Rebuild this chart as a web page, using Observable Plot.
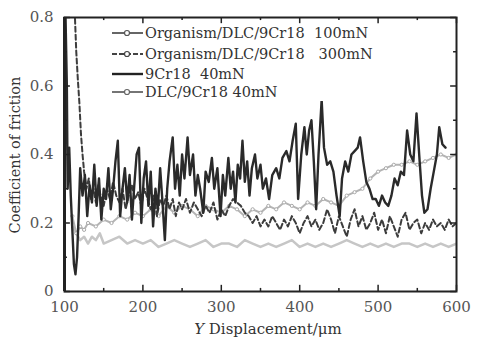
<!DOCTYPE html>
<html><head><meta charset="utf-8">
<script src="https://cdn.jsdelivr.net/npm/d3@7"></script>
<script src="https://cdn.jsdelivr.net/npm/@observablehq/plot@0.6"></script>
<style>body{margin:0;background:#fff}svg{display:block}</style>
</head><body><div id="chart"></div>
<script>
// ---- data ----
const xTicks = [100, 200, 300, 400, 500, 600];
const xMinor = [150, 250, 350, 450, 550];
const yTicks = [0, 0.2, 0.4, 0.6, 0.8];
const yMinor = [0.1, 0.3, 0.5, 0.7];

const legendLabels = [
  "Organism/DLC/9Cr18  100mN",
  "Organism/DLC/9Cr18   300mN",
  "9Cr18  40mN",
  "DLC/9Cr18 40mN"
];

// 9Cr18 40mN (solid black)
const xCr = [100,101,103,104,106,108,110,112,114,116,118,120,123,126,129,132,135,138,141,144,147,150,153,156,159,162,165,168,171,174,177,180,183,186,189,192,195,198,201,204,207,210,213,216,219,222,225,228,231,234,238,241,244,247,250,253,257,260,264,267,270,273,277,280,284,288,291,295,299,302,305,309,312,315,318,321,324,327,330,333,336,339,343,346,350,353,357,361,365,370,374,378,383,387,391,395,398,402,406,409,412,415,418,421,424,428,431,435,439,443,447,451,454,458,462,466,470,474,477,481,485,489,493,497,501,505,509,513,517,521,525,529,533,537,541,545,549,553,556,559,563,567,571,575,578,582,586];
const yCr = [0.05,0.84,0.60,0.30,0.42,0.28,0.18,0.08,0.05,0.10,0.22,0.36,0.28,0.34,0.22,0.31,0.26,0.37,0.25,0.33,0.21,0.30,0.27,0.36,0.24,0.30,0.38,0.44,0.22,0.30,0.36,0.26,0.34,0.21,0.31,0.40,0.42,0.20,0.33,0.38,0.25,0.35,0.19,0.30,0.24,0.36,0.26,0.15,0.30,0.38,0.45,0.30,0.37,0.28,0.40,0.33,0.45,0.34,0.40,0.28,0.34,0.30,0.23,0.35,0.32,0.39,0.30,0.36,0.22,0.34,0.28,0.39,0.30,0.35,0.26,0.37,0.33,0.44,0.32,0.38,0.28,0.36,0.40,0.33,0.37,0.30,0.33,0.27,0.34,0.36,0.33,0.39,0.41,0.38,0.44,0.49,0.27,0.40,0.48,0.40,0.47,0.50,0.38,0.24,0.40,0.56,0.42,0.37,0.38,0.35,0.28,0.22,0.33,0.38,0.35,0.40,0.41,0.42,0.45,0.38,0.32,0.30,0.27,0.27,0.25,0.28,0.26,0.25,0.28,0.33,0.31,0.35,0.34,0.47,0.40,0.38,0.52,0.38,0.28,0.23,0.24,0.30,0.35,0.40,0.48,0.43,0.42];

// Organism/DLC/9Cr18 300mN (dashed)
const x300 = [113,115,117,119,121,123,125,128,131,134,137,140,143,146,150,154,158,162,166,170,174,178,182,186,190,194,198,202,206,210,214,218,222,226,230,234,238,242,246,250,255,260,265,270,275,280,285,290,295,300,305,310,315,320,325,330,335,340,345,350,355,360,365,370,375,380,385,390,395,400,405,410,415,420,425,430,435,440,445,450,455,460,465,470,475,480,485,490,495,500,505,510,515,520,525,530,535,540,545,550,555,560,565,570,575,580,585,590,595,600];
const y300 = [0.82,0.70,0.62,0.55,0.46,0.40,0.35,0.30,0.33,0.27,0.30,0.26,0.31,0.28,0.25,0.30,0.27,0.32,0.28,0.26,0.30,0.24,0.28,0.31,0.27,0.29,0.25,0.30,0.27,0.24,0.28,0.22,0.27,0.25,0.28,0.24,0.27,0.22,0.26,0.24,0.27,0.23,0.26,0.24,0.22,0.25,0.23,0.26,0.21,0.24,0.22,0.25,0.27,0.26,0.25,0.23,0.22,0.20,0.22,0.19,0.21,0.19,0.22,0.20,0.18,0.21,0.19,0.22,0.20,0.17,0.20,0.22,0.19,0.21,0.18,0.20,0.24,0.21,0.17,0.22,0.19,0.16,0.21,0.24,0.19,0.22,0.18,0.20,0.23,0.18,0.21,0.17,0.22,0.19,0.16,0.21,0.23,0.18,0.20,0.21,0.17,0.20,0.18,0.21,0.19,0.20,0.18,0.21,0.19,0.20];

// Organism/DLC/9Cr18 100mN (gray, circles)
const x100 = [110,115,120,125,130,140,150,160,170,180,190,200,210,220,230,240,250,260,270,280,290,300,310,320,330,340,350,360,370,380,390,400,410,420,430,440,450,460,470,480,490,500,510,520,530,540,550,560,570,580,590,600];
const y100 = [0.22,0.17,0.19,0.18,0.20,0.19,0.21,0.20,0.22,0.21,0.23,0.22,0.24,0.22,0.25,0.23,0.25,0.24,0.22,0.25,0.24,0.23,0.25,0.24,0.22,0.24,0.23,0.25,0.24,0.26,0.25,0.24,0.26,0.25,0.27,0.26,0.25,0.28,0.29,0.30,0.33,0.35,0.36,0.37,0.37,0.38,0.37,0.38,0.39,0.40,0.39,0.40];

// DLC/9Cr18 40mN (light gray)
const xDlc = [110,115,120,125,130,135,140,145,150,160,170,180,190,200,210,220,230,240,250,260,270,280,290,300,310,320,330,340,350,360,370,380,390,400,410,420,430,440,450,460,470,480,490,500,510,520,530,540,550,560,570,580,590,600];
const yDlc = [0.19,0.17,0.15,0.16,0.14,0.16,0.15,0.17,0.14,0.15,0.16,0.14,0.15,0.14,0.15,0.13,0.14,0.15,0.14,0.13,0.14,0.15,0.13,0.14,0.14,0.13,0.15,0.14,0.13,0.14,0.13,0.14,0.15,0.13,0.14,0.13,0.14,0.13,0.14,0.15,0.14,0.13,0.14,0.13,0.14,0.13,0.14,0.14,0.13,0.14,0.13,0.14,0.13,0.14];

// ---- build ----
const zip = (xs, ys) => xs.map((x, i) => ({x, y: ys[i]}));
const sCr = zip(xCr, yCr), s300 = zip(x300, y300), s100 = zip(x100, y100), sDlc = zip(xDlc, yDlc);

const tickLenY = 0.018, tickLenX = 7.5;
const plot = Plot.plot({
  width: 488, height: 348,
  marginLeft: 64, marginRight: 32, marginTop: 17, marginBottom: 57,
  style: {fontFamily: "DejaVu Serif", fontSize: "15px", color: "#555", background: "#fff"},
  x: {domain: [100, 600]},
  y: {domain: [0, 0.8]},
  marks: [
    Plot.axisX({ticks: xTicks, tickSize: 0, tickPadding: 10, label: null, tickFormat: d => String(d)}),
    Plot.axisY({ticks: yTicks, tickSize: 0, tickPadding: 11, label: null, tickFormat: d => d === 0 ? "0" : d.toFixed(1)}),
    Plot.line(sDlc, {x: "x", y: "y", stroke: "#c6c6c6", strokeWidth: 2.5, clip: true}),
    Plot.line(s100, {x: "x", y: "y", stroke: "#b4b4b4", strokeWidth: 2, clip: true}),
    Plot.dot(s100, {x: "x", y: "y", r: 1.6, stroke: "#aaa", fill: "#fff", strokeWidth: 1, clip: true}),
    Plot.line(s300, {x: "x", y: "y", stroke: "#3c3c3c", strokeWidth: 2, strokeDasharray: "5,3", clip: true}),
    Plot.line(sCr, {x: "x", y: "y", stroke: "#2a2a2a", strokeWidth: 2.4, clip: true}),
    Plot.frame({stroke: "#222", strokeWidth: 2}),
    Plot.ruleX(xTicks, {y1: 0, y2: tickLenY, stroke: "#222", strokeWidth: 1.5}),
    Plot.ruleX(xMinor, {y1: 0, y2: tickLenY / 2, stroke: "#222", strokeWidth: 1.5}),
    Plot.ruleX(xTicks, {y1: 0.8, y2: 0.8 - tickLenY, stroke: "#222", strokeWidth: 1.5}),
    Plot.ruleX(xMinor, {y1: 0.8, y2: 0.8 - tickLenY / 2, stroke: "#222", strokeWidth: 1.5}),
    Plot.ruleY(yTicks, {x1: 100, x2: 100 + tickLenX, stroke: "#222", strokeWidth: 1.5}),
    Plot.ruleY(yMinor, {x1: 100, x2: 100 + tickLenX / 2, stroke: "#222", strokeWidth: 1.5}),
    Plot.ruleY(yTicks, {x1: 600, x2: 600 - tickLenX, stroke: "#222", strokeWidth: 1.5}),
    Plot.ruleY(yMinor, {x1: 600, x2: 600 - tickLenX / 2, stroke: "#222", strokeWidth: 1.5}),
    Plot.ruleX([100], {stroke: "#222", strokeWidth: 3})
  ]
});
document.getElementById("chart").appendChild(plot);

// ---- labels & legend ----
const svg = d3.select(plot);
const xl = svg.append("text").attr("x", 268).attr("y", 334).attr("text-anchor", "middle")
  .attr("font-family", "DejaVu Serif").attr("font-size", 15).attr("fill", "#333");
xl.append("tspan").attr("font-style", "italic").text("Y");
xl.append("tspan").text(" Displacement/\u03bcm");

svg.append("text").attr("transform", "translate(20,155) rotate(-90)").attr("text-anchor", "middle")
  .attr("font-family", "DejaVu Serif").attr("font-size", 14.5).attr("fill", "#333")
  .text("Coefficient of friction");

const legY = [33, 54, 74, 92];
const legStyles = [
  {stroke: "#555", dash: null, w: 1.8, dot: true},
  {stroke: "#444", dash: "5,2", w: 1.8, dot: true},
  {stroke: "#222", dash: null, w: 2.4, dot: false},
  {stroke: "#666", dash: null, w: 1.8, dot: true}
];
const lg = svg.append("g").attr("text-anchor", "start");
legendLabels.forEach((t, i) => {
  const s = legStyles[i], y = legY[i];
  lg.append("rect").attr("x", 110).attr("y", y - 9).attr("width", 280).attr("height", 18).attr("fill", "#fff");
});
legendLabels.forEach((t, i) => {
  const s = legStyles[i], y = legY[i];
  const ln = lg.append("line").attr("x1", 112).attr("x2", 143).attr("y1", y).attr("y2", y)
    .attr("stroke", s.stroke).attr("stroke-width", s.w);
  if (s.dash) ln.attr("stroke-dasharray", s.dash);
  if (s.dot) lg.append("circle").attr("cx", 127).attr("cy", y).attr("r", 2.5)
    .attr("fill", "#fff").attr("stroke", s.stroke).attr("stroke-width", 1.2);
  lg.append("text").attr("x", 145).attr("y", y).attr("dy", "0.35em").attr("text-anchor", "start")
    .attr("font-family", "DejaVu Serif").attr("font-size", 14.5).attr("fill", "#333")
    .style("white-space", "pre").text(t);
});
</script>
</body></html>
